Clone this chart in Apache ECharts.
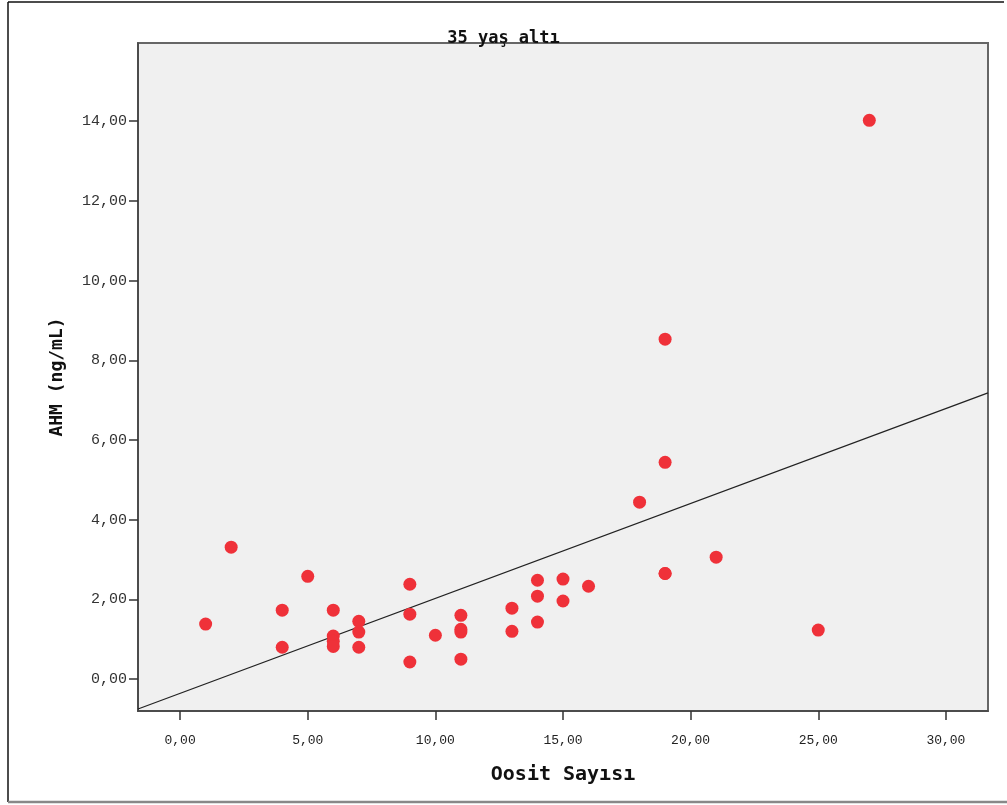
<!DOCTYPE html>
<html>
<head>
<meta charset="utf-8">
<script src="https://cdn.jsdelivr.net/npm/echarts@6/dist/echarts.min.js"></script>
<style>html,body{margin:0;padding:0;background:#fff;}#c{width:1007px;height:805px;}</style>
</head>
<body>
<div id="c"></div>
<script>
// Data
const oositX = [1, 2, 4, 4, 5, 6, 6, 6, 6, 7, 7, 7, 9, 9, 9, 10, 11, 11, 11, 11, 13, 13, 14, 14, 14, 15, 15, 16, 18, 19, 19, 19, 19, 21, 25, 27];
const ahmY   = [1.38, 3.31, 1.73, 0.80, 2.58, 1.73, 1.08, 0.95, 0.82, 1.45, 1.18, 0.80, 2.38, 1.63, 0.43, 1.10, 1.60, 1.25, 1.18, 0.50, 1.78, 1.20, 2.48, 2.08, 1.43, 2.51, 1.96, 2.33, 4.44, 8.53, 5.44, 2.65, 2.65, 3.06, 1.23, 14.02];
const fitLineX = [-1.65, 31.65];
const fitLineY = [-0.75, 7.18];
const xTicks = [0, 5, 10, 15, 20, 25, 30];
const yTicks = [0, 2, 4, 6, 8, 10, 12, 14];
const titleText = '35 yaş altı';
const xName = 'Oosit Sayısı';
const yName = 'AHM (ng/mL)';

const fmt = v => v.toFixed(2).replace('.', ',');
const pts = oositX.map((x, i) => [x, ahmY[i]]);
const fit = fitLineX.map((x, i) => [x, fitLineY[i]]);

const chart = echarts.init(document.getElementById('c'), null, {renderer: 'canvas'});
chart.setOption({
  animation: false,
  backgroundColor: '#ffffff',
  title: {
    text: titleText, left: 'center', top: 25,
    textStyle: {fontFamily: 'DejaVu Sans Mono', fontWeight: 'bold', fontSize: 17, color: '#111'}
  },
  grid: {left: 138, top: 43, right: 19, bottom: 94, show: true, backgroundColor: '#f0f0f0', borderColor: '#666', borderWidth: 2},
  xAxis: {
    type: 'value', min: -1.65, max: 31.65,
    name: xName, nameLocation: 'middle', nameGap: 54,
    nameTextStyle: {fontFamily: 'DejaVu Sans Mono', fontWeight: 'bold', fontSize: 20, color: '#111'},
    axisLine: {show: true, onZero: false, lineStyle: {color: '#444', width: 1.5}},
    axisTick: {show: true, length: 9, customValues: xTicks, lineStyle: {color: '#333', width: 1.5}},
    axisLabel: {customValues: xTicks, formatter: fmt, margin: 23, fontFamily: 'Liberation Mono', fontSize: 13, color: '#222'},
    splitLine: {show: false}
  },
  yAxis: {
    type: 'value', min: -0.8, max: 15.96,
    name: yName, nameLocation: 'middle', nameGap: 72, nameRotate: 90,
    nameTextStyle: {fontFamily: 'DejaVu Sans Mono', fontWeight: 'bold', fontSize: 18, color: '#111'},
    axisLine: {show: true, onZero: false, lineStyle: {color: '#444', width: 1.5}},
    axisTick: {show: true, length: 9, customValues: yTicks, lineStyle: {color: '#333', width: 1.5}},
    axisLabel: {customValues: yTicks, formatter: fmt, margin: 11, fontFamily: 'Liberation Mono', fontSize: 15, color: '#333'},
    splitLine: {show: false}
  },
  series: [
    {type: 'line', data: fit, symbol: 'none', silent: true, lineStyle: {color: '#222', width: 1.3}, z: 2},
    {type: 'scatter', data: pts, symbolSize: 13, itemStyle: {color: '#ef3139', opacity: 1}, z: 3}
  ],
  graphic: [
    {type: 'line', shape: {x1: 8, y1: 2, x2: 1004, y2: 2}, style: {stroke: '#111', lineWidth: 1.5}},
    {type: 'line', shape: {x1: 8, y1: 2, x2: 8, y2: 802}, style: {stroke: '#111', lineWidth: 1.5}},
    {type: 'line', shape: {x1: 8, y1: 802, x2: 1007, y2: 802}, style: {stroke: '#888', lineWidth: 2.5}}
  ]
});
</script>
</body>
</html>
